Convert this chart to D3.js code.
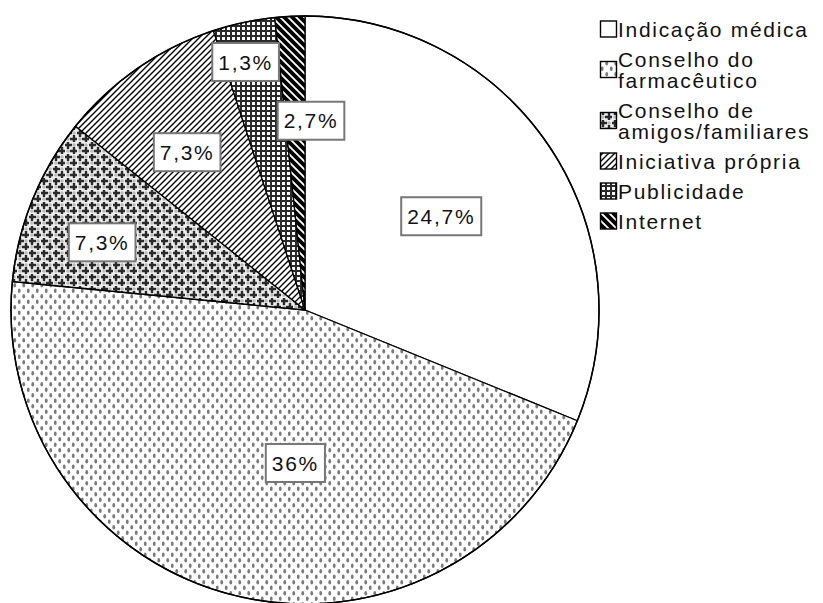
<!DOCTYPE html>
<html>
<head>
<meta charset="utf-8">
<script src="https://cdn.jsdelivr.net/npm/d3@7"></script>
<style>
    body { margin: 0; background: #fff; }
    text { font-family: "Liberation Sans", Arial, sans-serif; }
</style>
</head>
<body>
<div id="chart"></div>
<script>
// data (percent of respondents)
var categories = ['Indicação médica', 'Conselho do farmacêutico', 'Conselho de amigos/familiares',
    'Iniciativa própria', 'Publicidade', 'Internet'];
var values = [24.7, 36, 7.3, 7.3, 2.7, 1.3];
var patternIds = ['p-white', 'p-dots', 'p-plus', 'p-hatch', 'p-grid', 'p-black'];

// label nudges in px, SPSS moved some of them off the centroid
var labelNudge = [[-15, 8], [34, -24], [-34, 1], [-14, -8], [44, -11], [-50, -66]];

var width = 823, height = 603;
var cx = 305, cy = 310, radius = 294;
var fontSize = 21, spacing = 1.7;

var pt = d3.formatLocale({decimal: ',', thousands: '.', grouping: [3], currency: ['', '']});
var fmt = pt.format('.3~r');

var svg = d3.select('#chart').append('svg')
    .attr('width', width)
    .attr('height', height);

// ---- fill patterns ----
var defs = svg.append('defs');

defs.append('pattern').attr('id', 'p-white')
    .attr('patternUnits', 'userSpaceOnUse').attr('width', 4).attr('height', 4)
    .append('rect').attr('width', 4).attr('height', 4).attr('fill', '#fff');

var dots = defs.append('pattern').attr('id', 'p-dots')
    .attr('patternUnits', 'userSpaceOnUse').attr('width', 9).attr('height', 11);
dots.append('rect').attr('width', 9).attr('height', 11).attr('fill', '#fff');
dots.append('ellipse').attr('cx', 2.25).attr('cy', 2.75).attr('rx', 1.4).attr('ry', 2.3).attr('fill', '#7a7a7a');
dots.append('ellipse').attr('cx', 6.75).attr('cy', 8.25).attr('rx', 1.4).attr('ry', 2.3).attr('fill', '#7a7a7a');

var plus = defs.append('pattern').attr('id', 'p-plus')
    .attr('patternUnits', 'userSpaceOnUse').attr('width', 12).attr('height', 12);
plus.append('rect').attr('width', 12).attr('height', 12).attr('fill', '#eee');
[[3, 3], [9, 9]].forEach(function(c) {
    plus.append('path')
        .attr('d', 'M' + (c[0] - 4) + ',' + c[1] + 'h8M' + c[0] + ',' + (c[1] - 4) + 'v8')
        .attr('stroke', '#2a2a2a').attr('stroke-width', 2.4);
});
[[9, 3], [3, 9]].forEach(function(c) {
    plus.append('path')
        .attr('d', 'M' + (c[0] - 2) + ',' + c[1] + 'h4M' + c[0] + ',' + (c[1] - 2) + 'v4')
        .attr('stroke', '#aaa').attr('stroke-width', 1);
});

var hatch = defs.append('pattern').attr('id', 'p-hatch')
    .attr('patternUnits', 'userSpaceOnUse').attr('width', 6).attr('height', 6);
hatch.append('rect').attr('width', 6).attr('height', 6).attr('fill', '#fff');
hatch.append('path').attr('d', 'M-1,7L7,-1M-4,4L4,-4M2,10L10,2')
    .attr('stroke', '#000').attr('stroke-width', 1.4);

var grid = defs.append('pattern').attr('id', 'p-grid')
    .attr('patternUnits', 'userSpaceOnUse').attr('width', 5).attr('height', 5);
grid.append('rect').attr('width', 5).attr('height', 5).attr('fill', '#fff');
grid.append('path').attr('d', 'M0,1h5M1,0v5')
    .attr('stroke', '#2a2a2a').attr('stroke-width', 2);

var blk = defs.append('pattern').attr('id', 'p-black')
    .attr('patternUnits', 'userSpaceOnUse').attr('width', 8).attr('height', 8);
blk.append('rect').attr('width', 8).attr('height', 8).attr('fill', '#fff');
blk.append('path').attr('d', 'M-1,-1L9,9M-5,3L5,13M3,-5L13,5')
    .attr('stroke', '#000').attr('stroke-width', 3.8);

// ---- pie ----
var pie = d3.pie().sort(null).value(function(d) { return d; });
var arcs = pie(values);
var arc = d3.arc().innerRadius(0).outerRadius(radius);
var labelArc = d3.arc().innerRadius(radius * 0.62).outerRadius(radius * 0.62);

var g = svg.append('g').attr('transform', 'translate(' + cx + ',' + cy + ')');

g.selectAll('path.slice').data(arcs).enter().append('path')
    .attr('class', 'slice')
    .attr('d', arc)
    .attr('fill', function(d, i) { return 'url(#' + patternIds[i] + ')'; })
    .attr('stroke', '#000')
    .attr('stroke-width', 1.3)
    .attr('stroke-linejoin', 'round');

g.append('circle').attr('r', radius).attr('fill', 'none')
    .attr('stroke', '#000').attr('stroke-width', 1.5);

var labels = g.selectAll('g.lbl').data(arcs).enter().append('g')
    .attr('class', 'lbl')
    .attr('transform', function(d, i) {
        var c = labelArc.centroid(d);
        return 'translate(' + (c[0] + labelNudge[i][0]) + ',' + (c[1] + labelNudge[i][1]) + ')';
    });

labels.append('text')
    .attr('text-anchor', 'middle')
    .attr('dy', '0.36em')
    .attr('font-size', fontSize)
    .attr('letter-spacing', spacing)
    .attr('fill', '#111')
    .text(function(d) { return fmt(d.value) + '%'; });

labels.each(function() {
    var t = d3.select(this).select('text');
    var w = t.node().getComputedTextLength() + 12;
    d3.select(this).insert('rect', 'text')
        .attr('x', -w / 2).attr('y', -19)
        .attr('width', w).attr('height', 38)
        .attr('fill', '#fff')
        .attr('stroke', '#777')
        .attr('stroke-width', 2);
});

// ---- legend ----
var legend = svg.append('g').attr('transform', 'translate(600,0)');
var lineH = 21, itemGap = 30, maxW = 212;
var y = 29;

categories.forEach(function(name, i) {
    var item = legend.append('g');
    var txt = item.append('text')
        .attr('x', 18)
        .attr('font-size', fontSize)
        .attr('letter-spacing', spacing)
        .attr('fill', '#111');

    // greedy wrap
    var words = name.split(' '), lines = [], cur = '';
    var probe = txt.append('tspan');
    words.forEach(function(w) {
        var test = cur ? cur + ' ' + w : w;
        probe.text(test);
        if (probe.node().getComputedTextLength() > maxW && cur) {
            lines.push(cur);
            cur = w;
        } else {
            cur = test;
        }
    });
    lines.push(cur);
    probe.remove();

    lines.forEach(function(l, j) {
        txt.append('tspan')
            .attr('x', 18)
            .attr('y', y + j * lineH)
            .attr('dy', '0.36em')
            .text(l);
    });

    var mid = y + (lines.length - 1) * lineH / 2;
    item.append('rect')
        .attr('x', 0.5).attr('y', mid - 8)
        .attr('width', 16).attr('height', 16)
        .attr('fill', 'url(#' + patternIds[i] + ')')
        .attr('stroke', '#000')
        .attr('stroke-width', 1.4);

    y += (lines.length - 1) * lineH + itemGap;
});
</script>
</body>
</html>
